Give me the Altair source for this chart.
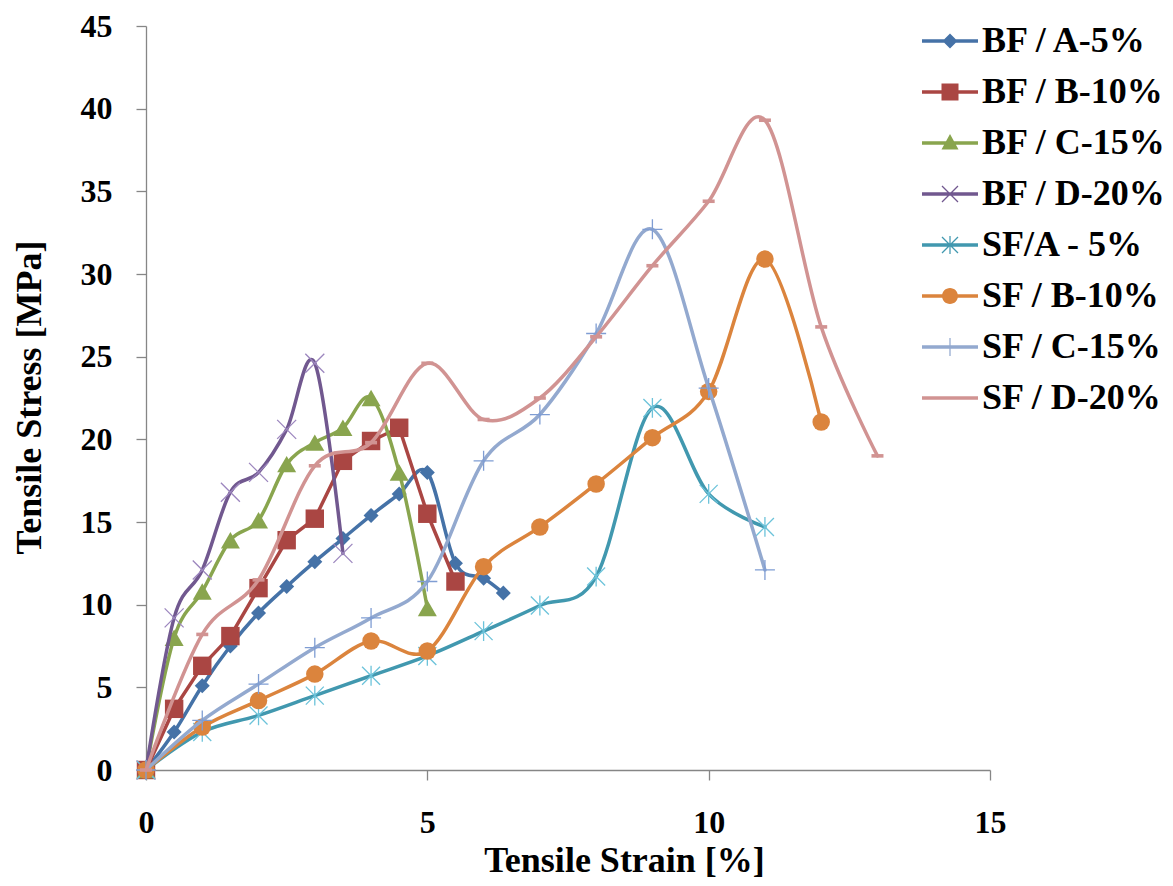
import altair as alt
import pandas as pd

# ---------------- data ----------------
series_names = ["BF / A-5%", "BF / B-10%", "BF / C-15%", "BF / D-20%",
                "SF/A - 5%", "SF / B-10%", "SF / C-15%", "SF / D-20%"]

strain_bf_a = [0, 0.5, 1, 1.5, 2, 2.5, 3, 3.5, 4, 4.5, 5, 5.5, 6, 6.35]
stress_bf_a = [0, 2.3, 5.1, 7.5, 9.5, 11.1, 12.6, 14.0, 15.4, 16.7, 18.0, 12.5, 11.6, 10.7]

strain_bf_b = [0, 0.5, 1, 1.5, 2, 2.5, 3, 3.5, 4, 4.5, 5, 5.5]
stress_bf_b = [0, 3.7, 6.3, 8.1, 11.0, 13.9, 15.2, 18.7, 19.9, 20.7, 15.5, 11.4]

strain_bf_c = [0, 0.5, 1, 1.5, 2, 2.5, 3, 3.5, 4, 4.5, 5]
stress_bf_c = [0, 8.0, 10.8, 13.9, 15.1, 18.5, 19.8, 20.7, 22.5, 18.0, 9.8]

strain_bf_d = [0, 0.5, 1, 1.5, 2, 2.5, 3, 3.5]
stress_bf_d = [0, 9.2, 12.1, 16.8, 18.0, 20.6, 24.6, 13.1]

strain_sf_a = [0, 1, 2, 3, 4, 5, 6, 7, 8, 9, 10, 11]
stress_sf_a = [0, 2.3, 3.3, 4.5, 5.7, 6.9, 8.4, 9.95, 11.7, 21.9, 16.7, 14.7]

strain_sf_b = [0, 1, 2, 3, 4, 5, 6, 7, 8, 9, 10, 11, 12]
stress_sf_b = [0, 2.6, 4.2, 5.8, 7.8, 7.2, 12.3, 14.7, 17.3, 20.1, 22.9, 30.9, 21.05]

strain_sf_c = [0, 1, 2, 3, 4, 5, 6, 7, 8, 9, 10, 11]
stress_sf_c = [0, 3.0, 5.2, 7.4, 9.2, 11.4, 18.7, 21.5, 26.4, 32.7, 23.1, 12.1]

strain_sf_d = [0, 1, 2, 3, 4, 5, 6, 7, 8, 9, 10, 11, 12, 13]
stress_sf_d = [0, 8.2, 11.5, 18.4, 19.8, 24.6, 21.2, 22.5, 26.2, 30.5, 34.4, 39.3, 26.8, 19.0]

x_ticks = [0, 5, 10, 15]
y_ticks = [0, 5, 10, 15, 20, 25, 30, 35, 40, 45]

all_strain = [strain_bf_a, strain_bf_b, strain_bf_c, strain_bf_d,
              strain_sf_a, strain_sf_b, strain_sf_c, strain_sf_d]
all_stress = [stress_bf_a, stress_bf_b, stress_bf_c, stress_bf_d,
              stress_sf_a, stress_sf_b, stress_sf_c, stress_sf_d]

rows = []
for name, xs, ys in zip(series_names, all_strain, all_stress):
    for k, (xv, yv) in enumerate(zip(xs, ys)):
        rows.append({"series": name, "strain": xv, "stress": yv, "idx": k})
df = pd.DataFrame(rows)

# ---------------- style ----------------
line_colors = ["#4572A7", "#AA4643", "#89A54E", "#71588F",
               "#4198AF", "#DB843D", "#93A9CF", "#D19392"]
marker_colors = ["#4572A7", "#AA4643", "#89A54E", "#9C86BE",
                 "#6CC3DA", "#DB843D", "#7F9DD3", "#D19392"]
interp = ["cardinal", "linear", "cardinal", "cardinal",
          "cardinal", "cardinal", "cardinal", "cardinal"]

X_PATH = "M-1,-1L1,1M-1,1L1,-1"
AST_PATH = "M-1,-1L1,1M-1,1L1,-1M0,-1.1L0,1.1"
PLUS_PATH = "M-1,0L1,0M0,-1L0,1"
DASH_PATH = "M-1,-0.3L1,-0.3L1,0.3L-1,0.3Z"

marker_shapes = ["diamond", "square", "triangle-up", X_PATH,
                 AST_PATH, "circle", PLUS_PATH, DASH_PATH]
marker_sizes = [225, 340, 361, 361, 324, 306, 400, 144]
marker_filled = [True, True, True, False, False, True, False, True]


def fmt(v):
    return f"{v:.3f}"


def poly(pts):
    return "M" + "L".join(f"{fmt(a)},{fmt(b)}" for a, b in pts) + "Z"


def rect(x0, y0, x1, y1):
    return poly([(x0, y0), (x1, y0), (x1, y1), (x0, y1)])


def diag(ax, ay, bx, by, w):
    # thin parallelogram, clockwise on screen
    dx, dy = bx - ax, by - ay
    L = (dx * dx + dy * dy) ** 0.5
    nx, ny = dy / L * w, -dx / L * w
    return poly([(ax + nx, ay + ny), (bx + nx, by + ny), (bx - nx, by - ny), (ax - nx, ay - ny)])


HL = 1.12   # half length of legend line (units of 25px)
LW = 0.07   # half width of legend line
TW = 0.025  # half width of thin marker strokes
legend_line = rect(-HL, -LW, HL, LW)
leg_diamond = poly([(-0.3, 0), (0, -0.3), (0.3, 0), (0, 0.3)])
leg_square = rect(-0.34, -0.34, 0.34, 0.34)
leg_triangle = poly([(0, -0.36), (0.34, 0.26), (-0.34, 0.26)])
leg_x = diag(-0.32, -0.32, 0.32, 0.32, TW) + diag(-0.32, 0.32, 0.32, -0.32, TW)
leg_vert = rect(-TW, -0.36, TW, 0.36)
leg_circle = "M-0.32,0A0.32,0.32,0,1,1,0.32,0A0.32,0.32,0,1,1,-0.32,0Z"

legend_paths = [
    legend_line + leg_diamond,
    legend_line + leg_square,
    legend_line + leg_triangle,
    legend_line + leg_x,
    legend_line + leg_x + leg_vert,
    legend_line + leg_circle,
    legend_line + leg_vert,
    legend_line,
]

FONT = "Liberation Serif"
AXIS_GRAY = "#868686"

x_scale = alt.Scale(domain=[0, 15], nice=False, zero=False)
y_scale = alt.Scale(domain=[0, 45], nice=False, zero=False)

x_axis = alt.Axis(
    values=x_ticks, grid=False, tickSize=10, tickColor=AXIS_GRAY, tickWidth=1.3,
    domainColor=AXIS_GRAY, domainWidth=1.3,
    labelFont=FONT, labelFontWeight="bold", labelFontSize=32, labelColor="black",
    labelPadding=27, labelFlush=False,
    title="Tensile Strain [%]", titleFont=FONT, titleFontWeight="bold", titleFontSize=36,
    titleColor="black", titleX=478, titleY=101, titleBaseline="alphabetic", titleAlign="center",
)
y_axis = alt.Axis(
    values=y_ticks, grid=False, tickSize=10, tickColor=AXIS_GRAY, tickWidth=1.3,
    domainColor=AXIS_GRAY, domainWidth=1.3,
    labelFont=FONT, labelFontWeight="bold", labelFontSize=32, labelColor="black",
    labelPadding=24, labelFlush=False,
    title="Tensile Stress [MPa]", titleFont=FONT, titleFontWeight="bold", titleFontSize=36,
    titleColor="black", titleX=-106, titleY=371, titleAngle=-90,
    titleBaseline="alphabetic", titleAlign="center",
)

x_enc = alt.X("strain:Q", scale=x_scale, axis=x_axis)
y_enc = alt.Y("stress:Q", scale=y_scale, axis=y_axis)

layers = []
for i, name in enumerate(series_names):
    base = alt.Chart(df).transform_filter(alt.datum.series == name)
    line = base.mark_line(
        color=line_colors[i], strokeWidth=3.5, interpolate=interp[i],
        strokeCap="round", strokeJoin="round",
    ).encode(x=x_enc, y=y_enc, order="idx:Q")
    if marker_filled[i]:
        pts = base.mark_point(
            shape=marker_shapes[i], size=marker_sizes[i], filled=True,
            color=marker_colors[i], opacity=1, strokeWidth=0,
        )
    else:
        pts = base.mark_point(
            shape=marker_shapes[i], size=marker_sizes[i], filled=False,
            color=marker_colors[i], opacity=1, strokeWidth=1.3,
        )
    pts = pts.encode(x=x_enc, y=y_enc)
    layers += [line, pts]

leg = alt.Legend(
    title=None, orient="none", legendX=779, legendY=-10, padding=0,
    symbolSize=2500, symbolStrokeWidth=0, symbolOpacity=1,
    labelFont=FONT, labelFontWeight="bold", labelFontSize=36, labelColor="black",
    labelOffset=7, rowPadding=8, labelLimit=400,
)

legend_layer = alt.Chart(df).transform_filter("false").mark_point(
    filled=True, opacity=1
).encode(
    x=x_enc, y=y_enc,
    fill=alt.Fill("series:N", scale=alt.Scale(domain=series_names, range=line_colors), legend=leg),
    shape=alt.Shape("series:N", scale=alt.Scale(domain=series_names, range=legend_paths), legend=leg),
)

chart = alt.layer(*layers, legend_layer).properties(
    width=844, height=744,
    padding={"left": 138, "top": 18, "right": 175, "bottom": 108},
    autosize=alt.AutoSizeParams(type="none"),
    background="white",
).configure_view(stroke=None)

chart.save("out.html", embed_options={"renderer": "svg", "actions": False})
